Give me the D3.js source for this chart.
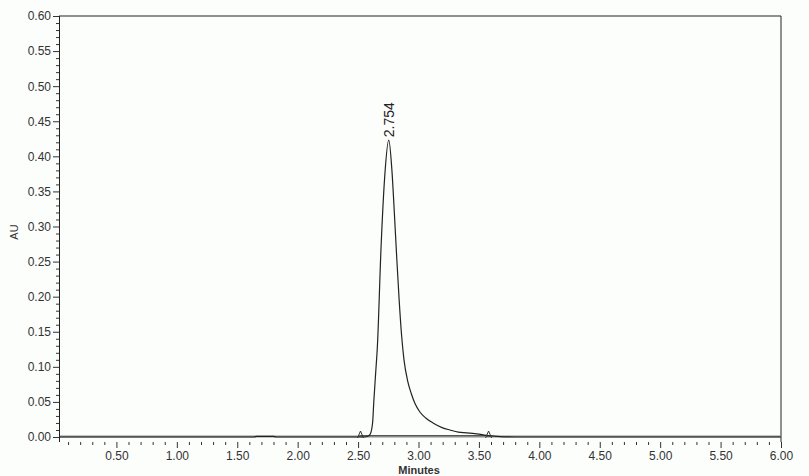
<!DOCTYPE html>
<html>
<head>
<meta charset="utf-8">
<script src="https://cdn.jsdelivr.net/npm/d3@7"></script>
<style>
  body { margin: 0; background: #fcfefc; }
  svg { display: block; font-family: "Liberation Sans", Arial, sans-serif; }
</style>
</head>
<body>
<div id="chart"></div>
<script>
/* DATA */
// retention time (minutes) and absorbance (AU) of the trace
const traceTime = [0.03, 1.64, 1.66, 1.80, 1.82, 2.55, 2.58, 2.60, 2.62, 2.63, 2.645, 2.66, 2.69, 2.72, 2.754,
  2.78, 2.80, 2.82, 2.84, 2.86, 2.88, 2.91, 2.94, 2.97, 3.01, 3.06, 3.12, 3.20, 3.26, 3.33, 3.40, 3.50, 3.58, 3.65, 3.80, 6.00];
const traceAU = [0, 0, 0.001, 0.001, 0, 0, 0.001, 0.004, 0.02, 0.05, 0.09, 0.13, 0.27, 0.37, 0.423,
  0.38, 0.32, 0.255, 0.195, 0.145, 0.11, 0.08, 0.062, 0.048, 0.036, 0.027, 0.02, 0.013, 0.01, 0.007, 0.006, 0.004, 0.002, 0.001, 0, 0];
const peakTime = 2.754;
const peakAU = 0.423;
const peakLabel = "2.754";
const peakStart = 2.52, peakEnd = 3.58;
const yTicks = [0, 0.05, 0.10, 0.15, 0.20, 0.25, 0.30, 0.35, 0.40, 0.45, 0.50, 0.55, 0.60];
const xTicks = [0.5, 1, 1.5, 2, 2.5, 3, 3.5, 4, 4.5, 5, 5.5, 6];

/* CONSTANTS */
const width = 809, height = 476;
const plot = { left: 59, right: 781, top: 16, bottom: 442 };

const xScale = d3.scaleLinear().domain([0, 6]).range([56, 781]);
const yScale = d3.scaleLinear().domain([0, 0.6]).range([437, 16]);

const svg = d3.select("#chart").append("svg")
  .attr("width", width)
  .attr("height", height);

// frame: top and right
svg.append("path")
  .attr("d", `M${plot.left},${plot.top}H${plot.right}V${plot.bottom}`)
  .attr("fill", "none")
  .attr("stroke", "#222")
  .attr("stroke-width", 1);

// y axis with minor ticks every 0.01
const yMinor = d3.range(0, 61).map(i => i / 100).filter(v => Math.round(v * 100) % 5 !== 0);
const yAxisMinor = d3.axisLeft(yScale).tickValues(yMinor).tickSize(3).tickFormat("");
const yAxis = d3.axisLeft(yScale).tickValues(yTicks).tickSize(6).tickPadding(2).tickFormat(d3.format(".2f"));

svg.append("g")
  .attr("transform", `translate(${plot.left},0)`)
  .call(yAxisMinor)
  .call(g => g.select(".domain").remove())
  .selectAll("line").attr("stroke", "#333");

svg.append("g")
  .attr("transform", `translate(${plot.left},0)`)
  .call(yAxis)
  .call(g => g.select(".domain").attr("d", `M0.5,${plot.top}V${plot.bottom}`).attr("stroke", "#222"))
  .call(g => g.selectAll("line").attr("stroke", "#333"))
  .call(g => g.selectAll("text").attr("font-size", 12).attr("fill", "#333").attr("font-family", "Liberation Sans, Arial, sans-serif"));

// x axis with minor ticks every 0.1 min
const xMinor = d3.range(1, 61).map(i => i / 10).filter(v => Math.round(v * 10) % 5 !== 0);
svg.append("g")
  .attr("transform", `translate(0,${plot.bottom})`)
  .call(d3.axisBottom(xScale).tickValues(xMinor).tickSize(3).tickFormat(""))
  .call(g => g.select(".domain").remove())
  .selectAll("line").attr("stroke", "#333");

svg.append("g")
  .attr("transform", `translate(0,${plot.bottom})`)
  .call(d3.axisBottom(xScale).tickValues(xTicks).tickSize(6).tickPadding(3).tickFormat(d3.format(".2f")))
  .call(g => g.select(".domain").remove())
  .call(g => g.selectAll("line").attr("stroke", "#333"))
  .call(g => g.selectAll("text").attr("font-size", 12).attr("fill", "#333").attr("font-family", "Liberation Sans, Arial, sans-serif"));

// axis titles
svg.append("text")
  .attr("transform", `translate(18,232) rotate(-90)`)
  .attr("text-anchor", "middle")
  .attr("font-size", 11)
  .attr("fill", "#333")
  .text("AU");

svg.append("text")
  .attr("x", 419)
  .attr("y", 474)
  .attr("text-anchor", "middle")
  .attr("font-size", 11)
  .attr("font-weight", "bold")
  .attr("fill", "#333")
  .text("Minutes");

// gray baseline along zero
svg.append("line")
  .attr("x1", plot.left + 1)
  .attr("x2", plot.right)
  .attr("y1", yScale(0) - 0.5)
  .attr("y2", yScale(0) - 0.5)
  .attr("stroke", "#8a8a8a")
  .attr("stroke-width", 2);

// integration baseline
svg.append("line")
  .attr("x1", xScale(peakStart))
  .attr("x2", xScale(peakEnd))
  .attr("y1", yScale(0) - 1.5)
  .attr("y2", yScale(0) - 1.5)
  .attr("stroke", "#555")
  .attr("stroke-width", 1);

// trace
const line = d3.line()
  .x((d, i) => xScale(traceTime[i]))
  .y(d => yScale(d))
  .curve(d3.curveMonotoneX);

svg.append("path")
  .datum(traceAU)
  .attr("d", line)
  .attr("fill", "none")
  .attr("stroke", "#222")
  .attr("stroke-width", 1.2);

// peak start / end markers
svg.selectAll(".marker")
  .data([peakStart, peakEnd])
  .join("path")
  .attr("class", "marker")
  .attr("d", d => {
    const x = xScale(d), y = yScale(0) + 1;
    return `M${x - 3},${y}L${x},${y - 7}L${x + 3},${y}M${x - 2},${y - 2}H${x + 2}`;
  })
  .attr("fill", "none")
  .attr("stroke", "#333")
  .attr("stroke-width", 1);

// peak label
svg.append("text")
  .attr("transform", `translate(${xScale(peakTime) + 5},${yScale(peakAU) - 3}) rotate(-90)`)
  .attr("font-size", 14)
  .attr("fill", "#222")
  .text(peakLabel);
</script>
</body>
</html>
